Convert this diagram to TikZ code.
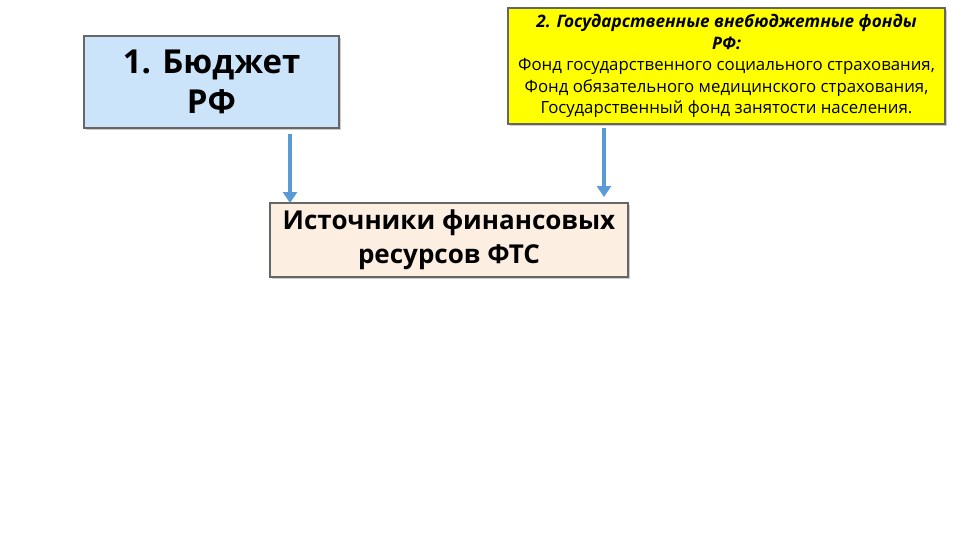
\documentclass[tikz,border=0pt]{standalone}
\usepackage{fontspec}
\setmainfont{Open Sans}
\usetikzlibrary{arrows.meta,shadows}
\definecolor{bluefill}{HTML}{CCE4FA}
\definecolor{yfill}{HTML}{FFFF00}
\definecolor{bfill}{HTML}{FDEEE2}
\definecolor{arr}{HTML}{5B9BD5}
\begin{document}
\begin{tikzpicture}[x=1pt,y=-1pt,
  box/.style={draw=gray!80!black,line width=1.2pt,drop shadow={shadow xshift=2pt,shadow yshift=-2pt,opacity=0.4},align=center,inner sep=1pt},
  conn/.style={draw=arr,line width=3.5pt,-{Triangle[length=11pt,width=14pt]}}]
\useasboundingbox (0,0) rectangle (960,540);
\fill[white] (0,0) rectangle (960,540);
\node[box,fill=bluefill,minimum width=255pt,minimum height=92pt,font=\fontsize{33}{40}\selectfont\bfseries] (b1) at (211.5,82) {1. Бюджет\\РФ};
\node[box,fill=yfill,minimum width=437pt,minimum height=116pt,font=\fontsize{16.8}{21.5}\selectfont] (b2) at (726.5,66) {{\fontsize{17.2}{21.5}\selectfont\textbf{\textit{2. Государственные внебюджетные фонды}}}\\{\fontsize{17.2}{21.5}\selectfont\textbf{\textit{РФ:}}}\\Фонд государственного социального страхования,\\Фонд обязательного медицинского страхования,\\Государственный фонд занятости населения.};
\node[box,fill=bfill,minimum width=358pt,minimum height=74pt,font=\fontsize{26}{34}\selectfont\bfseries] (b3) at (449,240) {Источники финансовых\\ресурсов ФТС};
\coordinate (a1s) at (290,134);
\coordinate (a1e) at (290,203);
\coordinate (a2s) at (604,128);
\coordinate (a2e) at (604,197);
\draw[conn] (a1s) -- (a1e);
\draw[conn] (a2s) -- (a2e);
\end{tikzpicture}
\end{document}
